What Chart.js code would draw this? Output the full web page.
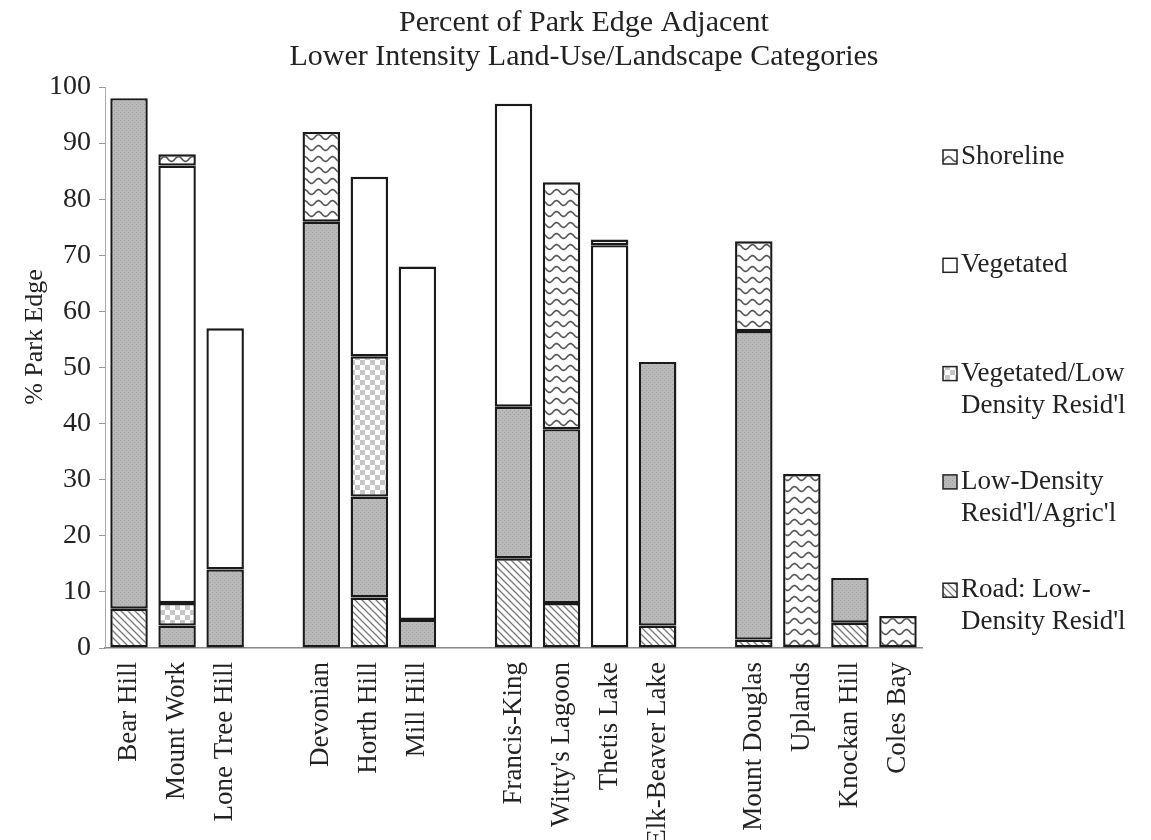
<!DOCTYPE html>
<html>
<head>
<meta charset="utf-8">
<script src="https://cdn.jsdelivr.net/npm/chart.js@4"></script>
<style>
	html, body { margin: 0; padding: 0; background: #fff; }
</style>
</head>
<body>
<canvas id="chart" width="1151" height="840"></canvas>
<script>
// parks, empty strings are the gaps between the groups
const parks = ['Bear Hill', 'Mount Work', 'Lone Tree Hill', '', 'Devonian', 'Horth Hill', 'Mill Hill', '',
	'Francis-King', "Witty's Lagoon", 'Thetis Lake', 'Elk-Beaver Lake', '',
	'Mount Douglas', 'Uplands', 'Knockan Hill', 'Coles Bay']

// % of park edge, stacked bottom to top
const road = [7, null, null, null, null, 9, null, null, 16, 8, null, 4, null, 1.5, null, 4.5, null]
const lowDensity = [91, 4, 14, null, 76, 18, 5, null, 27, 31, null, 47, null, 55, null, 8, null]
const vegLow = [null, 4, null, null, null, 25, null, null, null, null, null, null, null, null, null, null, null]
const vegetated = [null, 78, 43, null, null, 32, 63, null, 54, null, 71.8, null, null, null, null, null, null]
const shoreline = [null, 2, null, null, 16, null, null, null, null, 44, 1, null, null, 16, 31, null, 5.7]

const seriesNames = ["Road: Low-\nDensity Resid'l", "Low-Density\nResid'l/Agric'l", "Vegetated/Low\nDensity Resid'l", 'Vegetated', 'Shoreline']
const titleLines = ['Percent of Park Edge Adjacent', 'Lower Intensity Land-Use/Landscape Categories']
const yTicks = [0, 10, 20, 30, 40, 50, 60, 70, 80, 90, 100]

const ink = '#222'
const serif = '"Liberation Serif", "Times New Roman", serif'

const makePattern = (w, h, draw) => {
	const c = document.createElement('canvas')
	c.width = w
	c.height = h
	const g = c.getContext('2d')
	g.fillStyle = '#fff'
	g.fillRect(0, 0, w, h)
	draw(g)
	return document.createElement('canvas').getContext('2d').createPattern(c, 'repeat')
}

const hatch = makePattern(7, 7, g => {
	g.strokeStyle = '#777'
	g.lineWidth = 1.3
	g.beginPath()
	g.moveTo(0, 0); g.lineTo(7, 7)
	g.moveTo(-1, 6); g.lineTo(1, 8)
	g.moveTo(6, -1); g.lineTo(8, 1)
	g.stroke()
})
const grey = makePattern(4, 4, g => {
	g.fillStyle = '#b9b9b9'
	g.fillRect(0, 0, 4, 4)
	g.fillStyle = '#a2a2a2'
	g.fillRect(0, 0, 1, 1)
	g.fillRect(2, 2, 1, 1)
})
const checker = makePattern(10, 10, g => {
	g.fillStyle = '#c6c6c6'
	g.fillRect(0, 0, 5, 5)
	g.fillRect(5, 5, 5, 5)
})
const wave = makePattern(14, 11, g => {
	g.strokeStyle = '#555'
	g.lineWidth = 1.6
	g.beginPath()
	for (let x = -1; x <= 15; x++) {
		const y = 5 + 2.4 * Math.sin((x / 14) * Math.PI * 2)
		x === -1 ? g.moveTo(x, y) : g.lineTo(x, y)
	}
	g.stroke()
})

const fills = [hatch, grey, checker, '#fff', wave]
const values = [road, lowDensity, vegLow, vegetated, shoreline]

const overlay = {
	id: 'overlay',
	afterDraw(chart) {
		const ctx = chart.ctx
		ctx.save()
		ctx.fillStyle = ink
		ctx.textBaseline = 'middle'

		ctx.font = '30px ' + serif
		ctx.textAlign = 'center'
		titleLines.forEach((t, i) => ctx.fillText(t, 584, 23 + i * 34))

		// y axis title
		ctx.save()
		ctx.translate(35, 337)
		ctx.rotate(-Math.PI / 2)
		ctx.font = '26px ' + serif
		ctx.fillText('% Park Edge', 0, 0)
		ctx.restore()

		// legend, top item is the top of the stack
		ctx.font = '27px ' + serif
		ctx.textAlign = 'left'
		const sets = chart.data.datasets.slice().reverse()
		sets.forEach((ds, i) => {
			const y = 157 + i * 108.3
			ctx.fillStyle = ds.backgroundColor
			ctx.fillRect(943, y - 7, 14, 14)
			ctx.strokeStyle = ink
			ctx.lineWidth = 1.5
			ctx.strokeRect(943, y - 7, 14, 14)
			ctx.fillStyle = ink
			ds.label.split('\n').forEach((line, j) => ctx.fillText(line, 961, y + j * 32))
		})
		ctx.restore()
	},
}

new Chart(document.getElementById('chart'), {
	type: 'bar',
	data: {
		labels: parks,
		datasets: values.map((v, i) => ({
			label: seriesNames[i],
			data: v,
			backgroundColor: fills[i],
			borderColor: '#1a1a1a',
			borderWidth: 2.4,
			borderSkipped: false,
			barPercentage: 0.78,
			categoryPercentage: 1,
		})),
	},
	options: {
		responsive: false,
		animation: false,
		events: [],
		layout: { padding: { top: 87, right: 229, left: 0, bottom: 0 } },
		plugins: { legend: { display: false }, title: { display: false }, tooltip: { enabled: false } },
		scales: {
			x: {
				stacked: true,
				grid: { display: false },
				border: { color: '#888', width: 1.5 },
				ticks: {
					color: ink,
					font: { family: serif, size: 27 },
					minRotation: 90,
					maxRotation: 90,
					autoSkip: false,
					padding: 6,
				},
				afterFit: scale => { scale.height = 192 },
			},
			y: {
				stacked: true,
				min: 0,
				max: 100,
				afterBuildTicks: scale => { scale.ticks = yTicks.map(v => ({ value: v })) },
				grid: { drawOnChartArea: false, drawTicks: true, tickLength: 6, color: '#999' },
				border: { color: '#aaa', width: 1 },
				ticks: { color: ink, font: { family: serif, size: 28 }, padding: 8 },
				afterFit: scale => { scale.width = 105 },
			},
		},
	},
	plugins: [overlay],
})
</script>
</body>
</html>
